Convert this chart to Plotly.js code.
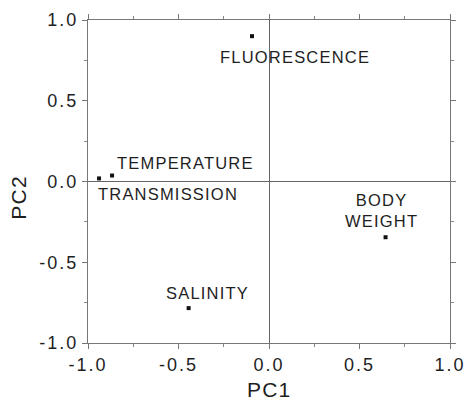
<!DOCTYPE html>
<html><head><meta charset="utf-8">
<script src="https://cdn.plot.ly/plotly-3.0.1.min.js"></script>
<style>
body{margin:0;background:#fff}#c{width:467px;height:404px}
.xtick text, .ytick text{letter-spacing:2px}
.annotation-text{letter-spacing:1.2px}
</style>
</head><body><div id="c"></div>
<script>
const variables = ["FLUORESCENCE", "TEMPERATURE", "TRANSMISSION", "BODY<br>WEIGHT", "SALINITY"];
const pc1 = [-0.094, -0.867, -0.939, 0.644, -0.444];
const pc2 = [0.90, 0.037, 0.019, -0.345, -0.784];
const xTicks = [-1.0, -0.5, 0.0, 0.5, 1.0];
const yTicks = [-1.0, -0.5, 0.0, 0.5, 1.0];
const tickLabels = ["-1.0", "-0.5", "0.0", "0.5", "1.0"];
const xTitle = "PC1";
const yTitle = "PC2";

// label offsets in pixels (style, not data)
const labelStyle = [
  {xshift: 43, yshift: -21, xanchor: 'center'},
  {xshift: 3, yshift: 13, xanchor: 'left'},
  {xshift: -3, yshift: -16, xanchor: 'left'},
  {xshift: -4, yshift: 27, xanchor: 'center'},
  {xshift: 19, yshift: 15, xanchor: 'center'}
];

const font = {family: 'Liberation Sans, Arial, sans-serif', color: '#1e1e1e'};

const trace = {
  x: pc1, y: pc2, mode: 'markers', type: 'scatter',
  marker: {symbol: 'square', size: 4, color: '#111'},
  hoverinfo: 'none', showlegend: false
};

const annotations = variables.map((v, i) => ({
  x: pc1[i], y: pc2[i], xref: 'x', yref: 'y', text: v, showarrow: false,
  xshift: labelStyle[i].xshift, yshift: labelStyle[i].yshift,
  xanchor: labelStyle[i].xanchor, yanchor: 'middle', align: 'center',
  font: Object.assign({size: 16.5}, font)
}));
annotations.push({
  x: 0.5, y: 0, xref: 'paper', yref: 'paper', text: xTitle, showarrow: false,
  yshift: -46, xanchor: 'center', yanchor: 'middle',
  font: Object.assign({size: 21}, font)
});
annotations.push({
  x: 0, y: 0.45, xref: 'paper', yref: 'paper', text: yTitle, showarrow: false,
  xshift: -69, textangle: -90, xanchor: 'center', yanchor: 'middle',
  font: Object.assign({size: 21}, font)
});

const axisCommon = {
  range: [-1, 1], showgrid: false, zeroline: true, zerolinecolor: '#666', zerolinewidth: 1,
  showline: true, linecolor: '#777', linewidth: 1, mirror: 'ticks',
  ticks: 'outside', ticklen: 5, tickcolor: '#777', tickwidth: 1,
  minor: {ticks: 'outside', dtick: 0.25, ticklen: 3, tickcolor: '#888'},
  tickfont: Object.assign({size: 18}, font)
};

const layout = {
  width: 467, height: 404,
  margin: {l: 88, r: 17, t: 20, b: 61},
  paper_bgcolor: '#fff', plot_bgcolor: '#fff',
  xaxis: Object.assign({}, axisCommon, {tickvals: xTicks, ticktext: tickLabels}),
  yaxis: Object.assign({}, axisCommon, {tickvals: yTicks, ticktext: tickLabels}),
  annotations: annotations
};

Plotly.newPlot('c', [trace], layout, {displayModeBar: false, staticPlot: true});
</script></body></html>
